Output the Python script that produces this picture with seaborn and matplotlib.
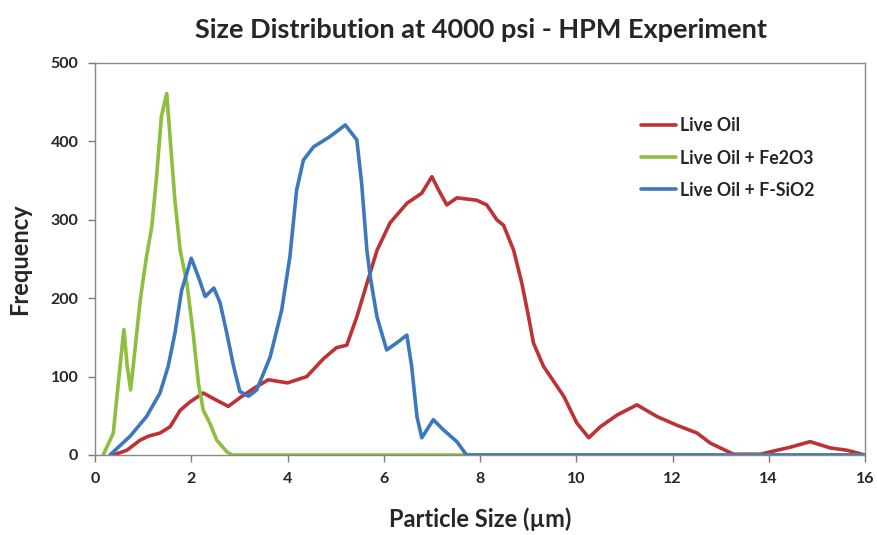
import matplotlib
matplotlib.use("Agg")
import matplotlib.pyplot as plt
import seaborn as sns
import pandas as pd

# Particle size (µm) and frequency for each sample
live_oil_size = [0.38, 0.66, 0.94, 1.11, 1.35, 1.56, 1.77, 1.98, 2.25, 2.46, 2.77, 3.01, 3.30,
                 3.60, 4.00, 4.40, 4.75, 5.02, 5.23, 5.44, 5.65, 5.86, 6.13, 6.48, 6.79, 7.00,
                 7.14, 7.31, 7.52, 7.93, 8.14, 8.35, 8.49, 8.70, 8.87, 9.01, 9.11, 9.32, 9.74,
                 10.01, 10.26, 10.50, 10.85, 11.26, 11.68, 12.09, 12.51, 12.79, 13.27, 13.83,
                 14.03, 14.45, 14.86, 15.28, 15.63, 16.00]
live_oil_freq = [0, 6, 19, 24, 28, 36, 57, 68, 79, 72, 62, 73, 85,
                 96, 92, 100, 123, 137, 140, 176, 219, 261, 296, 321, 334, 355,
                 338, 319, 328, 325, 319, 300, 293, 261, 219, 176, 143, 113, 75,
                 41, 22, 36, 51, 64, 49, 38, 28, 15, 1, 1,
                 4, 10, 17, 9, 6, 0]

fe2o3_size = [0.17, 0.38, 0.52, 0.60, 0.67, 0.74, 0.83, 0.94, 1.07, 1.18, 1.28, 1.38, 1.49,
              1.66, 1.77, 1.91, 2.04, 2.15, 2.25, 2.39, 2.53, 2.74, 2.85, 16.00]
fe2o3_freq = [0, 28, 113, 160, 113, 83, 134, 198, 253, 291, 355, 432, 461,
              325, 261, 219, 155, 91, 57, 40, 19, 4, 0, 0]

fsio2_size = [0.31, 0.73, 1.07, 1.35, 1.52, 1.66, 1.80, 2.00, 2.15, 2.29, 2.47, 2.60, 2.74,
              2.88, 3.01, 3.19, 3.36, 3.64, 3.88, 4.05, 4.19, 4.33, 4.54, 4.88, 5.20, 5.44,
              5.54, 5.65, 5.72, 5.86, 6.06, 6.27, 6.48, 6.58, 6.69, 6.79, 7.03, 7.24, 7.52,
              7.72, 16.00]
fsio2_freq = [0, 24, 49, 79, 113, 155, 210, 251, 227, 202, 213, 194, 155,
              113, 81, 75, 83, 125, 185, 253, 338, 376, 393, 406, 421, 402,
              347, 261, 227, 176, 134, 143, 153, 113, 49, 22, 45, 32, 17,
              0, 0]

series_names = ["Live Oil", "Live Oil + Fe2O3", "Live Oil + F-SiO2"]
x_ticks = [0, 2, 4, 6, 8, 10, 12, 14, 16]
y_ticks = [0, 100, 200, 300, 400, 500]

frames = []
for name, xs, ys in zip(series_names,
                        [live_oil_size, fe2o3_size, fsio2_size],
                        [live_oil_freq, fe2o3_freq, fsio2_freq]):
    frames.append(pd.DataFrame({"size": xs, "freq": ys, "sample": name}))
df = pd.concat(frames, ignore_index=True)

sns.set_theme(style="white")
plt.rcParams["font.family"] = ["Lato", "DejaVu Sans"]

palette = {"Live Oil": "#BE3236",
           "Live Oil + Fe2O3": "#8DBE3E",
           "Live Oil + F-SiO2": "#3B78BD"}

fig = plt.figure(figsize=(8.77, 5.35), dpi=100)
ax = fig.add_axes([95 / 877, 1 - 455 / 535, 770 / 877, 392 / 535])

sns.lineplot(data=df, x="size", y="freq", hue="sample", hue_order=series_names,
             palette=palette, linewidth=2.6, sort=True, estimator=None, ax=ax)

ax.set_xlim(0, 16)
ax.set_ylim(0, 500)
ax.set_xticks(x_ticks)
ax.set_yticks(y_ticks)
ax.set_xticklabels([str(t) for t in x_ticks], fontsize=11.5, fontweight="bold")
ax.set_yticklabels([str(t) for t in y_ticks], fontsize=11.5, fontweight="bold")
ax.tick_params(axis="both", direction="out", length=5, width=1, color="#7a7a7a",
               bottom=True, left=True, pad=7)

for side, sp in ax.spines.items():
    sp.set_color("#8a8a8a")
    sp.set_linewidth(1.0)
ax.spines["left"].set_color("#7d8795")

ax.set_xlabel("Particle Size (µm)", fontsize=17, fontweight="bold", labelpad=16)
ax.set_ylabel("Frequency", fontsize=17, fontweight="bold", labelpad=14)
fig.text(0.548, 0.943, "Size Distribution at 4000 psi - HPM Experiment",
         ha="center", va="center", fontsize=19.5, fontweight="bold")

leg = ax.legend(loc="upper left", bbox_to_anchor=(0.688, 0.902), frameon=False,
                handlelength=2.0, handletextpad=0.2, labelspacing=0.85,
                prop={"weight": "bold", "size": 12.8})
for line in leg.get_lines():
    line.set_linewidth(2.6)

fig.savefig("out.png", dpi=100)
